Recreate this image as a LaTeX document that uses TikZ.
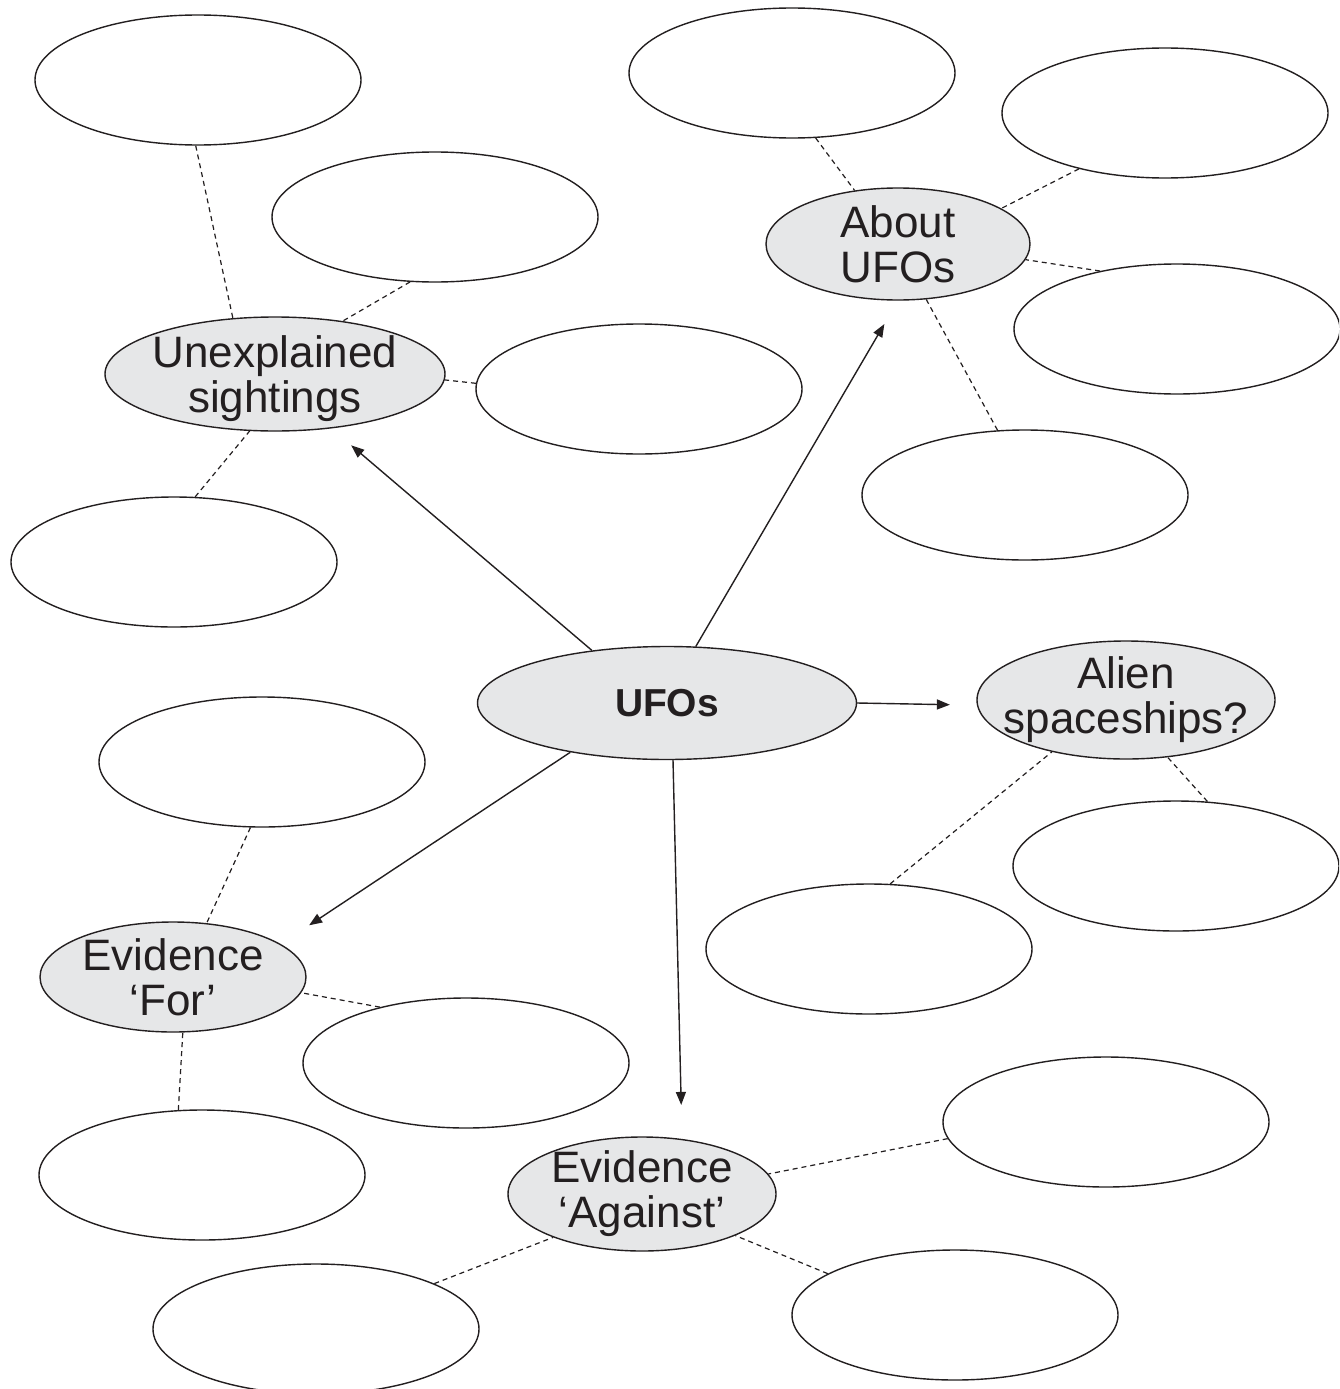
\documentclass[tikz,border=0pt]{standalone}
\usepackage{fontspec}
\setmainfont{Liberation Sans}
\usetikzlibrary{shapes.geometric,arrows.meta}
\definecolor{topicgray}{HTML}{E6E7E8}
\definecolor{inkc}{HTML}{231F20}
\begin{document}
\begin{tikzpicture}[x=1pt,y=-1pt,
  blank/.style={draw=inkc,line width=1.4pt,ellipse,minimum width=326pt,minimum height=130pt,inner sep=0pt,fill=white},
  topic/.style={draw=inkc,line width=1.4pt,ellipse,fill=topicgray,inner sep=0pt},
  txt/.style={font=\fontsize{44}{45}\selectfont,align=center,text=inkc,inner sep=0pt},
  btxt/.style={font=\fontsize{39}{39}\selectfont\bfseries,align=center,text=inkc,inner sep=0pt},
  link/.style={draw=inkc,dash pattern=on 5pt off 4pt,line width=1.2pt},
  arr/.style={draw=inkc,-{Triangle[length=13pt,width=10pt]},line width=1.4pt}]
\clip (0,0) rectangle (1339,1389);
\fill[white] (0,0) rectangle (1339,1389);

% topic ellipses
\node[topic,minimum width=379pt,minimum height=113pt,label={[btxt]center:UFOs}] (ufo) at (667,703) {};
\node[topic,minimum width=340pt,minimum height=114pt,label={[txt,yshift=-5pt]center:Unexplained\\sightings}] (us) at (275,374) {};
\node[topic,minimum width=264pt,minimum height=112pt,label={[txt]center:About\\UFOs}] (about) at (898,244) {};
\node[topic,minimum width=298pt,minimum height=118pt,label={[txt]center:Alien\\spaceships?}] (alien) at (1126,700) {};
\node[topic,minimum width=266pt,minimum height=110pt,label={[txt]center:Evidence\\‘For’}] (ef) at (173,977) {};
\node[topic,minimum width=268pt,minimum height=114pt,label={[txt]center:Evidence\\‘Against’}] (ea) at (642,1194) {};

% blank ellipses
\node[blank] (e1) at (198,80) {};
\node[blank] (e2) at (435,217) {};
\node[blank] (e3) at (639,389) {};
\node[blank] (e4) at (174,562) {};
\node[blank] (e5) at (792,73) {};
\node[blank] (e6) at (1165,113) {};
\node[blank] (e7) at (1177,329) {};
\node[blank] (e8) at (1025,495) {};
\node[blank] (e9) at (262,762) {};
\node[blank] (e10) at (1176,866) {};
\node[blank] (e11) at (869,949) {};
\node[blank] (e12) at (466,1063) {};
\node[blank] (e13) at (1106,1122) {};
\node[blank] (e14) at (202,1175) {};
\node[blank] (e15) at (955,1315) {};
\node[blank] (e16) at (316,1329) {};

% dashed links
\draw[link] (e1.-92) -- (us.127);
\draw[link] (e2.-111) -- (us.38);
\draw[link] (e3.178) -- (us.-2);
\draw[link] (e4.72) -- (us.-114);
\draw[link] (e5.-70.5) -- (about.129.4);
\draw[link] (e6.-147.6) -- (about.19.3);
\draw[link] (e7.143.5) -- (about.-7.5);
\draw[link] (e8.113.3) -- (about.-63.4);
\draw[link] (e9.-100.5) -- (ef.58);
\draw[link] (e12.147.4) -- (ef.-7.6);
\draw[link] (e14.110.3) -- (ef.-80.4);
\draw[link] (e11.72.9) -- (alien.-145.8);
\draw[link] (e10.64.2) -- (alien.-54.6);
\draw[link] (e13.-174.7) -- (ea.9.8);
\draw[link] (e16.21.5) -- (ea.-154.5);
\draw[link] (e15.162.2) -- (ea.-24.4);

% arrows
\draw[arr,shorten >=26pt] (ufo.145.5) -- (us.-44.5);
\draw[arr,shorten >=27pt] (ufo.63.4) -- (about.-90);
\draw[arr,shorten >=27pt] (ufo.0) -- (alien.-178.5);
\draw[arr,shorten >=34pt] (ufo.-153.4) -- (ef.17.3);
\draw[arr,shorten >=34pt] (ufo.-84) -- (ea.54);
\end{tikzpicture}
\end{document}
